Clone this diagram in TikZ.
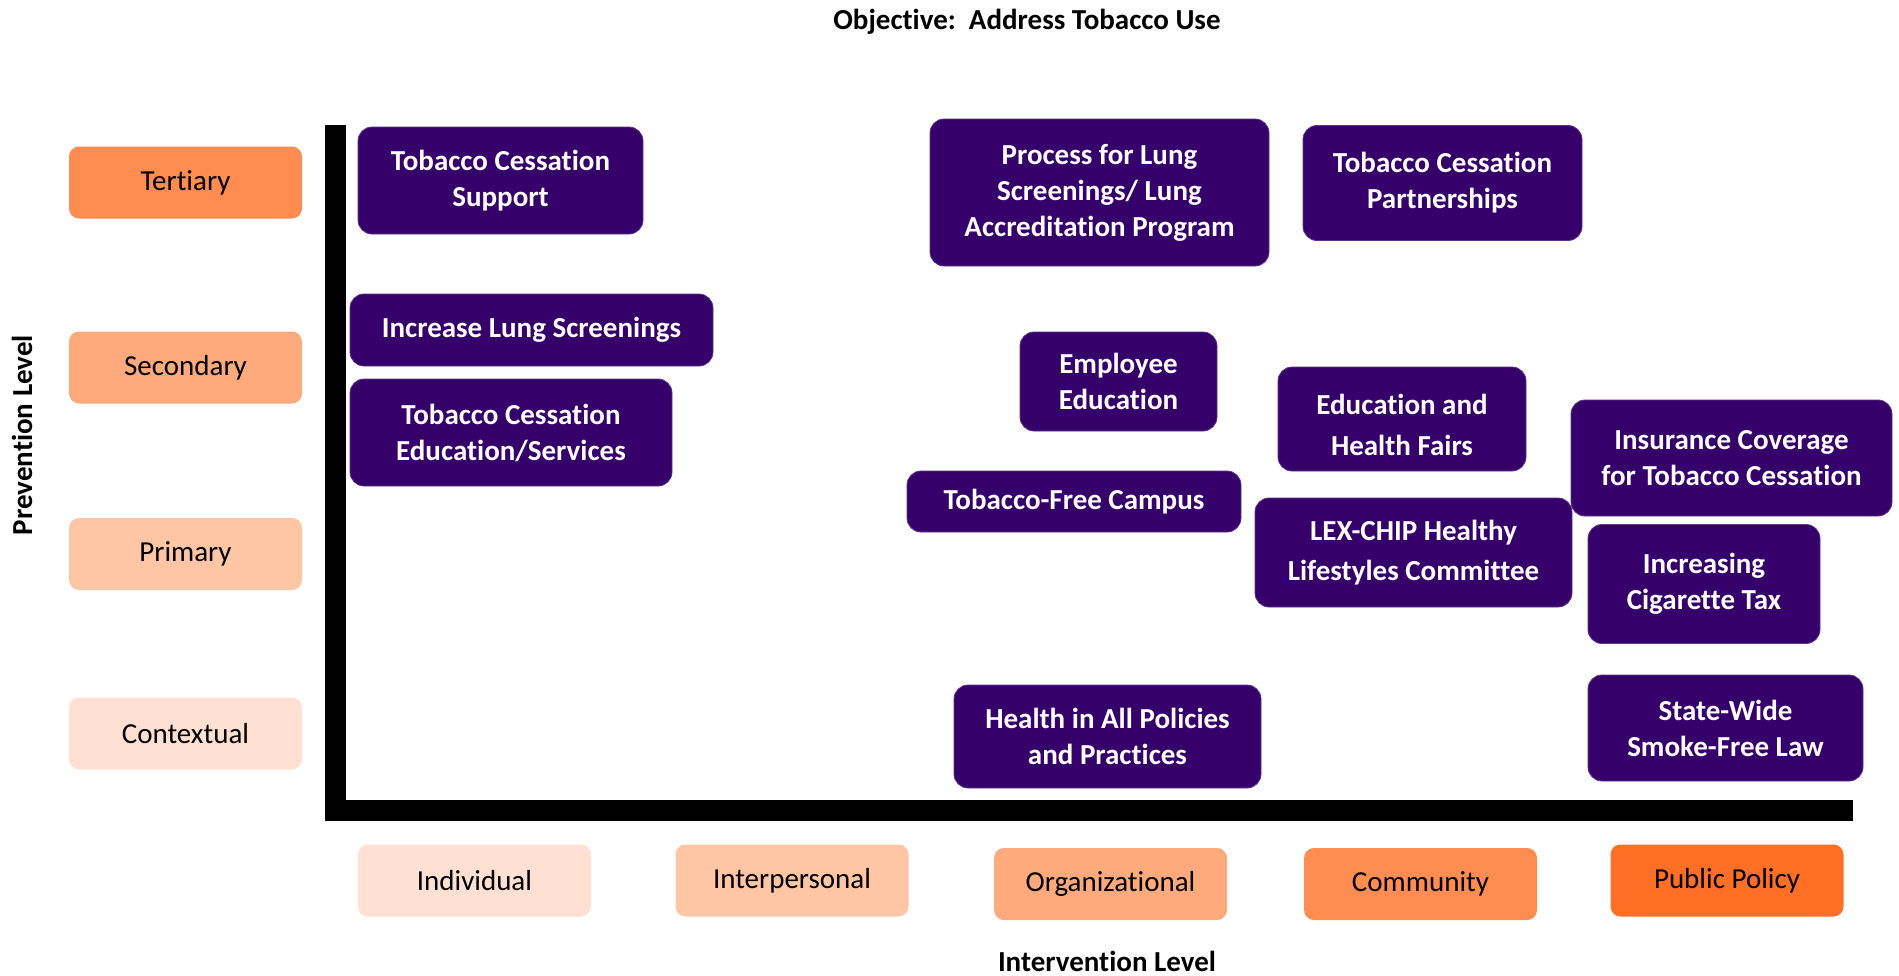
\documentclass[tikz,border=0pt]{standalone}
\usepackage{fontspec}
\setmainfont{Carlito}[Ligatures=NoCommon]
\usetikzlibrary{positioning}

\definecolor{actpurple}{RGB}{54,0,107}
\definecolor{lvlone}{RGB}{255,224,210}
\definecolor{lvltwo}{RGB}{255,198,165}
\definecolor{lvlthree}{RGB}{255,170,125}
\definecolor{lvlfour}{RGB}{255,140,80}
\definecolor{lvlfive}{RGB}{255,112,38}

\tikzset{
    actbox/.style={fill=actpurple, draw=actpurple!80!white, line width=0.8pt, rounded corners=14pt,
        text=white, align=center, inner sep=0pt,
        font=\bfseries\fontsize{29}{36}\selectfont},
    lvlbox/.style={fill=#1, rounded corners=10pt, minimum width=233pt, minimum height=72pt,
        inner sep=0pt, font=\fontsize{29}{35}\selectfont},
    axislabel/.style={font=\bfseries\fontsize{29}{35}\selectfont}
}

\begin{document}
\begin{tikzpicture}[x=1pt, y=-1pt]
    \useasboundingbox (0,0) rectangle (1899,975);

    % Title
    \node[axislabel] (title) at (1027,22) {Objective:\ \ Address Tobacco Use};

    % Axes as one heavy L-shaped line
    \coordinate (ytop) at (335,125);
    \coordinate (origin) at (335,810);
    \coordinate (xend) at (1853,810);
    \draw[line width=21pt, line join=miter] (ytop) -- (origin) -- (xend);

    % Prevention levels along the left
    \node[lvlbox=lvlfour]  (tert) at (185.5,182.5) {Tertiary};
    \node[lvlbox=lvlthree] (sec)  at (185.5,367.5) {Secondary};
    \node[lvlbox=lvltwo]   (prim) at (185.5,554)   {Primary};
    \node[lvlbox=lvlone]   (ctx)  at (185.5,733.5) {Contextual};
    \node[axislabel, rotate=90] (prevlbl) at (22,435) {Prevention Level};

    % Intervention levels along the bottom
    \node[lvlbox=lvlone]   (indiv)  at (474.5,880.5) {Individual};
    \node[lvlbox=lvltwo]   (inter)  at (792,880.5)   {Interpersonal};
    \node[lvlbox=lvlthree] (org)    at (1110.5,884)  {Organizational};
    \node[lvlbox=lvlfour]  (comm)   at (1420.5,884)  {Community};
    \node[lvlbox=lvlfive]  (policy) at (1727,880.5)  {Public Policy};
    \node[axislabel] (intlbl) at (1107,961) {Intervention Level};

    % Activities placed on the grid
    \node[actbox, minimum width=285pt, minimum height=107pt] (cessup) at (500.5,180.5) {Tobacco Cessation\\Support};
    \node[actbox, minimum width=363pt, minimum height=72pt] (lungscr) at (531.5,330) {Increase Lung Screenings};
    \node[actbox, minimum width=322pt, minimum height=107pt] (cessedu) at (511,432.5) {Tobacco Cessation\\Education/Services};
    \node[actbox, minimum width=339pt, minimum height=147pt] (lungproc) at (1099.5,192.5) {Process for Lung\\Screenings/ Lung\\Accreditation Program};
    \node[actbox, minimum width=279pt, minimum height=115pt] (cesspart) at (1442.5,183) {Tobacco Cessation\\Partnerships};
    \node[actbox, minimum width=197pt, minimum height=99pt] (empedu) at (1118.5,381.5) {Employee\\Education};
    \node[actbox, minimum width=248pt, minimum height=104pt] (fairs) at (1402,419) {\\[-3pt]Education and\\[5pt]Health Fairs};
    \node[actbox, minimum width=321pt, minimum height=116pt] (insur) at (1731.5,458) {Insurance Coverage\\for Tobacco Cessation};
    \node[actbox, minimum width=334pt, minimum height=61pt] (campus) at (1074,501.5) {Tobacco-Free Campus};
    \node[actbox, minimum width=317pt, minimum height=109pt] (lexchip) at (1413.5,552.5) {LEX-CHIP Healthy\\[4pt]Lifestyles Committee};
    \node[actbox, minimum width=232pt, minimum height=119pt] (cigtax) at (1704,584) {Increasing\\Cigarette Tax};
    \node[actbox, minimum width=307pt, minimum height=103pt] (hiap) at (1107.5,736.5) {Health in All Policies\\and Practices};
    \node[actbox, minimum width=275pt, minimum height=106pt] (smokefree) at (1725.5,728) {State-Wide\\Smoke-Free Law};
\end{tikzpicture}
\end{document}
